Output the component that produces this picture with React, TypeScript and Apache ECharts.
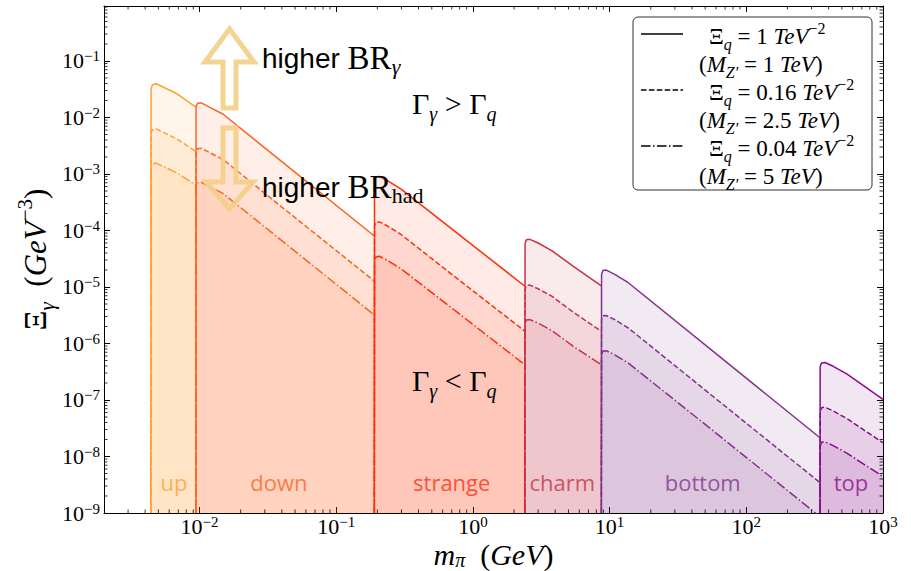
import React, { useEffect, useRef } from 'react';
import * as echarts from 'echarts';

// ---- data (mass in GeV, Xi_gamma in GeV^-3) ----
const upMass = [0.0044, 0.00442, 0.00452, 0.0048, 0.0055, 0.0069, 0.0094];
const upSolid = [1e-9, 0.032, 0.038, 0.0395, 0.034, 0.026, 0.0153];
const upDashed = [1e-9, 0.0051, 0.0061, 0.0063, 0.0054, 0.0041, 0.0025];
const upDashDot = [1e-9, 0.00128, 0.0015, 0.00156, 0.00134, 0.00103, 0.00063];

const downMass = [0.0094, 0.00943, 0.00966, 0.0103, 0.0118, 0.0149, 0.04, 0.19];
const downSolid = [1e-9, 0.0153, 0.0178, 0.0182, 0.0153, 0.0114, 0.00165, 7.98e-5];
const downDashed = [1e-9, 0.0024, 0.0028, 0.00285, 0.0024, 0.0018, 2.6e-4, 1.27e-5];
const downDashDot = [1e-9, 6.0e-4, 7.0e-4, 7.1e-4, 6.0e-4, 4.5e-4, 6.6e-5, 3.2e-6];

const strangeMass = [0.19, 0.1906, 0.195, 0.207, 0.237, 0.298, 0.8, 2.4];
const strangeSolid = [1e-9, 7.6e-4, 8.9e-4, 9.06e-4, 7.6e-4, 5.4e-4, 8.3e-5, 1.03e-5];
const strangeDashed = [1e-9, 1.2e-4, 1.39e-4, 1.42e-4, 1.2e-4, 8.5e-5, 1.3e-5, 1.65e-6];
const strangeDashDot = [1e-9, 2.9e-5, 3.4e-5, 3.5e-5, 2.95e-5, 2.1e-5, 3.3e-6, 4.2e-7];

const charmMass = [2.4, 2.407, 2.46, 2.61, 3.0, 3.77, 5.5, 8.7];
const charmSolid = [1e-9, 5.9e-5, 6.85e-5, 6.98e-5, 6.0e-5, 4.4e-5, 2.27e-5, 1.05e-5];
const charmDashed = [1e-9, 9.2e-6, 1.06e-5, 1.08e-5, 9.3e-6, 6.9e-6, 3.5e-6, 1.64e-6];
const charmDashDot = [1e-9, 2.25e-6, 2.6e-6, 2.65e-6, 2.3e-6, 1.7e-6, 8.7e-7, 4.2e-7];

const bottomMass = [8.7, 8.73, 8.93, 9.46, 10.9, 13.7, 60, 346];
const bottomSolid = [1e-9, 1.67e-5, 1.96e-5, 1.99e-5, 1.67e-5, 1.19e-5, 6.6e-7, 2.15e-8];
const bottomDashed = [1e-9, 2.65e-6, 3.1e-6, 3.12e-6, 2.65e-6, 1.88e-6, 1.05e-7, 3.45e-9];
const bottomDashDot = [1e-9, 6.3e-7, 7.4e-7, 7.45e-7, 6.3e-7, 4.5e-7, 2.6e-8, 8.6e-10];

const topMass = [346, 347, 355, 376, 432, 543, 1000];
const topSolid = [1e-9, 3.9e-7, 4.5e-7, 4.61e-7, 3.95e-7, 2.9e-7, 1.03e-7];
const topDashed = [1e-9, 6.3e-8, 7.3e-8, 7.45e-8, 6.4e-8, 4.7e-8, 1.75e-8];
const topDashDot = [1e-9, 1.55e-8, 1.78e-8, 1.82e-8, 1.56e-8, 1.15e-8, 4.4e-9];

const regionNames = ['up', 'down', 'strange', 'charm', 'bottom', 'top'];
const regionLabelMass = [0.0065, 0.038, 0.7, 4.5, 48, 583];
const regionLabelLevel = 3.5e-9;

const legendLine1 = ['1', '0.16', '0.04'];
const legendLine2 = ['1', '2.5', '5'];

const X_MIN = 0.002;
const X_MAX = 1000;
const Y_MIN = 1e-9;
const Y_MAX = 0.94;

// ---- styles ----
const SERIF = "'Liberation Serif', 'DejaVu Serif', serif";
const SANS = "'Liberation Sans', Arial, sans-serif";
const LABEL_FONT = "'Open Sans', 'Noto Sans', sans-serif";
const regionColors = ['#ffa032', '#fb6420', '#ff2e0a', '#c53347', '#84318c', '#880c88'];
const dashTypes: any[] = ['solid', [5.5, 2.4], [9.6, 2.4, 1.5, 2.4]];

const mathRich = (F: number, lr = 1.4, sr = 0.68, slr = 1) => {
  const color = '#000';
  const L = Math.round(F * lr);
  const s = Math.round(F * sr);
  const sl = Math.round(s * slr);
  return {
    r: { fontFamily: SERIF, fontSize: F, lineHeight: L, color },
    i: { fontFamily: SERIF, fontSize: F, fontStyle: 'italic', lineHeight: L, color },
    sub: { fontFamily: SERIF, fontSize: s, fontStyle: 'italic', lineHeight: sl, verticalAlign: 'bottom', color },
    subr: { fontFamily: SERIF, fontSize: s, lineHeight: sl, verticalAlign: 'bottom', color },
    sup: { fontFamily: SERIF, fontSize: s, lineHeight: sl, verticalAlign: 'top', color },
  };
};

const tickFormatter = (v: number) => {
  const e = Math.log10(v);
  const r = Math.round(e);
  if (Math.abs(e - r) > 1e-6) return '';
  return `{r|10}{sup|${r < 0 ? '\u2212' : ''}${Math.abs(r)}}`;
};

const xMinor: number[] = [];
for (let k = -3; k <= 2; k++) for (let d = 2; d <= 9; d++) {
  const v = d * Math.pow(10, k);
  if (v > X_MIN * 1.0001 && v < X_MAX) xMinor.push(v);
}
const yMinor: number[] = [];
for (let k = -9; k <= -1; k++) for (let d = 2; d <= 9; d++) {
  const v = d * Math.pow(10, k);
  if (v < Y_MAX) yMinor.push(v);
}

export default function App() {
  const ref = useRef<HTMLDivElement>(null);
  useEffect(() => {
    if (!ref.current) return;
    const chart = echarts.init(ref.current, null, { renderer: 'svg' });

    const regions = [
      { mass: upMass, curves: [upSolid, upDashed, upDashDot] },
      { mass: downMass, curves: [downSolid, downDashed, downDashDot] },
      { mass: strangeMass, curves: [strangeSolid, strangeDashed, strangeDashDot] },
      { mass: charmMass, curves: [charmSolid, charmDashed, charmDashDot] },
      { mass: bottomMass, curves: [bottomSolid, bottomDashed, bottomDashDot] },
      { mass: topMass, curves: [topSolid, topDashed, topDashDot] },
    ];

    const series: any[] = [];
    regions.forEach((reg, ri) => {
      reg.curves.forEach((curve, ci) => {
        series.push({
          type: 'line',
          name: `${regionNames[ri]}-${ci}`,
          xAxisIndex: 0,
          yAxisIndex: 0,
          data: reg.mass.map((m, i) => [m, curve[i]]),
          symbol: 'none',
          showSymbol: false,
          silent: true,
          clip: true,
          z: 2,
          lineStyle: { color: regionColors[ri], width: 1.5, type: dashTypes[ci] },
          areaStyle: { color: regionColors[ri], opacity: 0.1, origin: 'start' },
        });
      });
    });

    series.push({
      type: 'scatter',
      silent: true,
      symbolSize: 0,
      z: 5,
      data: regionNames.map((n, i) => ({
        name: n,
        value: [regionLabelMass[i], regionLabelLevel],
        label: { color: regionColors[i] },
      })),
      label: {
        show: true,
        position: 'inside',
        formatter: (p: any) => p.name,
        fontFamily: LABEL_FONT,
        fontSize: 22,
      },
    });

    const tickLine = (x1: number, y1: number, x2: number, y2: number) => ({
      type: 'line',
      shape: { x1, y1, x2, y2 },
      style: { stroke: '#000', lineWidth: 0.8 },
    });

    series.push({
      type: 'custom',
      silent: true,
      z: 10,
      data: xMinor.map((v) => [v, 1e-5]),
      renderItem: (params: any, api: any) => {
        const cs = params.coordSys;
        const x = api.coord([api.value(0), 1e-5])[0];
        const b = cs.y + cs.height;
        return {
          type: 'group',
          children: [tickLine(x, b, x, b - 3.5), tickLine(x, cs.y, x, cs.y + 3.5)],
        };
      },
    });
    series.push({
      type: 'custom',
      silent: true,
      z: 10,
      data: yMinor.map((v) => [0.1, v]),
      renderItem: (params: any, api: any) => {
        const cs = params.coordSys;
        const y = api.coord([0.1, api.value(1)])[1];
        const r = cs.x + cs.width;
        return {
          type: 'group',
          children: [tickLine(cs.x, y, cs.x + 3.5, y), tickLine(r, y, r - 3.5, y)],
        };
      },
    });

    const axisCommon = {
      axisLine: { show: true, onZero: false, lineStyle: { color: '#000', width: 1 } },
      axisTick: { show: true, inside: true, length: 6, lineStyle: { color: '#000', width: 1 } },
      splitLine: { show: false },
      minorTick: { show: false },
    };

    const legendRich = mathRich(23);
    const annRich = {
      h: { fontFamily: SANS, fontSize: 28, lineHeight: 38, color: '#000' },
      br: { fontFamily: SERIF, fontSize: 33, lineHeight: 38, color: '#000' },
      sub: { fontFamily: SERIF, fontSize: 22, fontStyle: 'italic', lineHeight: 22, verticalAlign: 'bottom', color: '#000' },
      subr: { fontFamily: SERIF, fontSize: 22, lineHeight: 22, verticalAlign: 'bottom', color: '#000' },
    };
    const gRich = mathRich(30);
    const tickRich = mathRich(22, 1.1, 0.68, 0.8);
    const xNameRich = mathRich(30, 1.07, 0.68, 1);

    const txt = (x: number, y: number, text: string, rich: any, z = 120) => ({
      type: 'text',
      x,
      y,
      z,
      silent: true,
      style: { text, rich, align: 'left', verticalAlign: 'middle', textAlign: 'left', textVerticalAlign: 'middle' },
    });

    const arrowColor = '#f3cf86';
    const graphic: any[] = [
      {
        type: 'polygon',
        z: 110,
        silent: true,
        shape: { points: [[229.5, 29], [254, 62], [236, 62], [236, 108], [223, 108], [223, 62], [205, 62]] },
        style: { fill: 'none', stroke: arrowColor, lineWidth: 5, opacity: 0.9 },
      },
      {
        type: 'polygon',
        z: 110,
        silent: true,
        shape: { points: [[223, 128], [236, 128], [236, 182], [253, 182], [229.5, 209], [206, 182], [223, 182]] },
        style: { fill: 'none', stroke: arrowColor, lineWidth: 5, opacity: 0.9 },
      },
      txt(262, 58, '{h|higher }{br|BR}{sub|γ}', annRich),
      txt(262, 187, '{h|higher }{br|BR}{subr|had}', annRich),
      txt(412, 103, '{r|Γ}{sub|γ}{r| > Γ}{sub|q}', gRich),
      txt(412, 380, '{r|Γ}{sub|γ}{r| < Γ}{sub|q}', gRich),
      {
        type: 'rect',
        z: 115,
        silent: true,
        shape: { x: 633, y: 17, width: 239, height: 173, r: 5 },
        style: { fill: 'rgba(255,255,255,0.9)', stroke: '#333', lineWidth: 1 },
      },
    ];
    [0, 1, 2].forEach((k) => {
      const ly = 34 + 56 * k;
      graphic.push({
        type: 'line',
        z: 120,
        silent: true,
        shape: { x1: 641, y1: ly, x2: 683, y2: ly },
        style: { stroke: '#000', lineWidth: 1.5, lineDash: k === 0 ? null : dashTypes[k] },
      });
      graphic.push(txt(709, 36 + 56 * k, `{r|Ξ}{sub|q}{r| = ${legendLine1[k]} }{i|TeV}{sup|\u22122}`, legendRich));
      graphic.push(txt(699, 64 + 56 * k, `{r|(}{i|M}{sub|Z\u2032}{r| = ${legendLine2[k]} }{i|TeV}{r|)}`, legendRich));
    });

    const option: any = {
      animation: false,
      backgroundColor: '#fff',
      grid: { left: 104, right: 28, top: 6, bottom: 58, containLabel: false, outerBoundsMode: 'none' },
      xAxis: [
        {
          ...axisCommon,
          type: 'log',
          min: X_MIN,
          max: X_MAX,
          position: 'bottom',
          axisLabel: { show: true, margin: 1, formatter: tickFormatter, rich: tickRich, fontFamily: SERIF, fontSize: 22, color: '#000' },
          name: '{i|m}{sub|π}{r|  (}{i|GeV}{r|)}',
          nameLocation: 'middle',
          nameGap: 25,
          nameMoveOverlap: false,
          nameTextStyle: { fontFamily: SERIF, fontSize: 30, color: '#000', rich: xNameRich },
        },
        {
          ...axisCommon,
          type: 'log',
          min: X_MIN,
          max: X_MAX,
          position: 'top',
          axisLabel: { show: false },
        },
      ],
      yAxis: [
        {
          ...axisCommon,
          type: 'log',
          min: Y_MIN,
          max: Y_MAX,
          position: 'left',
          axisLabel: { show: true, margin: 4, formatter: tickFormatter, rich: tickRich, fontFamily: SERIF, fontSize: 22, color: '#000' },
          name: '{r|Ξ}{sub|γ}{r|  (}{i|GeV}{sup|\u22123}{r|)}',
          nameLocation: 'middle',
          nameRotate: 90,
          nameGap: 47,
          nameMoveOverlap: false,
          nameTextStyle: { fontFamily: SERIF, fontSize: 31, color: '#000', rich: mathRich(31) },
        },
        {
          ...axisCommon,
          type: 'log',
          min: Y_MIN,
          max: Y_MAX,
          position: 'right',
          axisLabel: { show: false },
        },
      ],
      graphic,
      series,
    };
    chart.setOption(option);
    return () => chart.dispose();
  }, []);

  return <div ref={ref} style={{ position: 'fixed', left: 0, top: 0, width: 911, height: 571 }} />;
}
